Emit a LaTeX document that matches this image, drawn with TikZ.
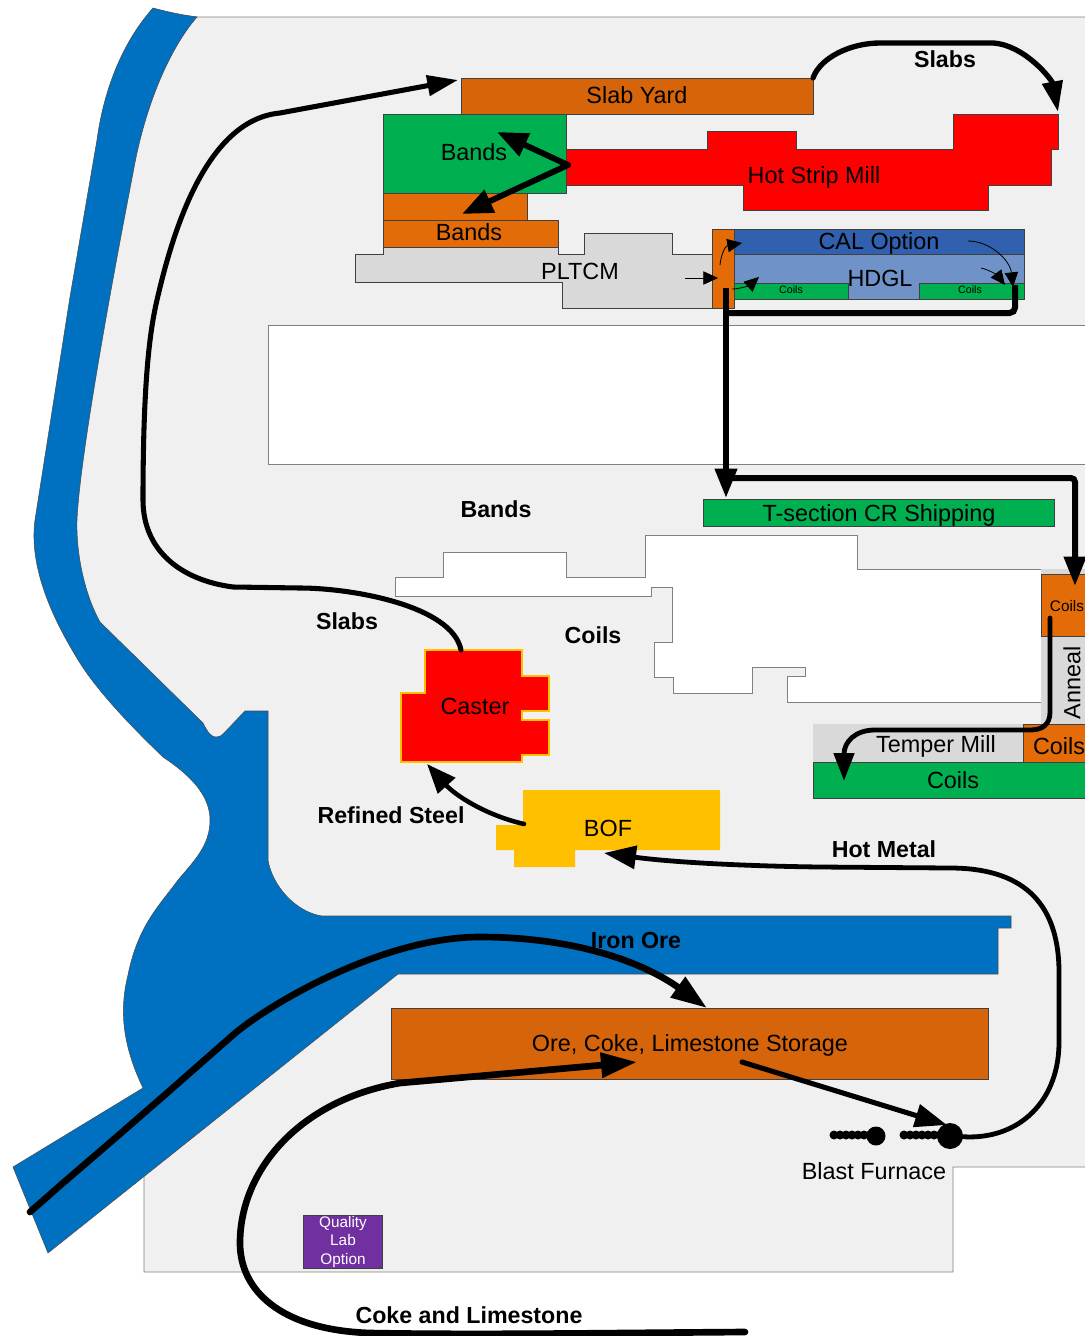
\documentclass[tikz,border=0pt]{standalone}
\usepackage{fontspec}
\setmainfont{Liberation Sans}
\usetikzlibrary{arrows.meta}
\definecolor{floorgray}{HTML}{F0F0F0}
\definecolor{river}{HTML}{0070C0}
\definecolor{rust}{HTML}{D6640A}
\definecolor{lightrust}{HTML}{E36C09}
\definecolor{leaf}{HTML}{00B050}
\definecolor{millgray}{HTML}{D9D9D9}
\definecolor{calblue}{HTML}{3060AE}
\definecolor{hdglblue}{HTML}{6F93C9}
\definecolor{gold}{HTML}{FFC000}
\definecolor{labpurple}{HTML}{7030A0}
\tikzset{
  block/.style={draw=black!75, line width=0.7pt},
  wall/.style={draw=black!50, line width=0.7pt},
  bigflow/.style={line width=3.8pt, line cap=round, -{Triangle[length=23pt,width=15pt]}},
  heavyflow/.style={line width=5pt, line cap=round, -{Triangle[length=27pt,width=18pt]}},
  thinflow/.style={line width=0.6pt, -{Triangle[length=11pt,width=10pt]}},
  lbl/.style={inner sep=0pt, font=\fontsize{17.55}{18}\selectfont},
  boldlbl/.style={inner sep=0pt, font=\fontsize{17.4}{18}\selectfont\bfseries},
  tiny/.style={inner sep=0pt, font=\fontsize{8}{8}\selectfont}
}
\begin{document}
\begin{tikzpicture}[x=0.75pt, y=-0.75pt]
  \useasboundingbox (0,0) rectangle (1085,1336);
  % floor of the works
  \draw[wall, fill=floorgray] (197,17) -- (1090,17) -- (1090,1167) -- (953,1167) -- (953,1272) -- (144,1272) -- (144,1140)
    -- (200,1000) -- (235,850) -- (200,735) -- (95,640) -- (58,520) -- (90,300) -- (125,100) -- (178,15) -- cycle;
  % river and harbour
  \draw[draw=black!70, line width=0.4pt, fill=river] (153,8) .. controls (168,12) and (182,15) .. (197,17)
    .. controls (170,48) and (145,105) .. (133,173) .. controls (120,240) and (80,450) .. (77,520)
    .. controls (76,555) and (85,595) .. (100,622) -- (203,723) .. controls (208,733) and (212,738) .. (217,737)
    .. controls (220,737) and (222,735) .. (224,733) -- (245,711) -- (268,711) -- (268,860)
    .. controls (272,885) and (295,912) .. (322,916) -- (1011,916) -- (1011,928) -- (998,928) -- (998,974)
    -- (398,974) -- (48,1253) -- (13,1167) -- (143,1088)
    .. controls (125,1050) and (118,1015) .. (128,975) .. controls (138,925) and (160,905) .. (178,880)
    .. controls (195,860) and (210,845) .. (210,820) .. controls (210,795) and (190,775) .. (163,757)
    .. controls (140,735) and (100,695) .. (80,663) .. controls (50,615) and (29,565) .. (35,520)
    -- (70,297) -- (97,140) .. controls (103,95) and (120,45) .. (153,8) -- cycle;
  % offices
  \draw[wall, fill=white] (268,325) rectangle (1090,464);
  \draw[wall, fill=white] (395,577) -- (443,577) -- (443,552) -- (566,552) -- (566,577) -- (645,577) -- (645,535)
    -- (857,535) -- (857,569) -- (1041,569) -- (1041,702) -- (787,702) -- (787,676) -- (805,676) -- (805,667)
    -- (752,667) -- (752,693) -- (673,693) -- (673,677) -- (654,677) -- (654,642) -- (672,642) -- (672,587)
    -- (651,587) -- (651,596) -- (395,596) -- cycle;
  % north mills
  \draw[block, fill=rust] (461,78) rectangle (813,114);
  \draw[block, fill=millgray] (383,247) -- (558,247) -- (558,254) -- (584,254) -- (584,233) -- (672,233) -- (672,254)
    -- (712,254) -- (712,308) -- (562,308) -- (562,282) -- (355,282) -- (355,254) -- (383,254) -- cycle;
  \draw[block, fill=lightrust] (383,193) rectangle (527,220);
  \draw[block, fill=lightrust] (383,220) rectangle (558,247);
  \draw[block, fill=leaf] (383,114) rectangle (566,193);
  \draw[block, line width=0.4pt, fill=red] (566,149) -- (707,149) -- (707,131) -- (796,131) -- (796,149) -- (953,149) -- (953,114) -- (1058,114)
    -- (1058,149) -- (1051,149) -- (1051,185) -- (988,185) -- (988,210) -- (743,210) -- (743,185) -- (566,185) -- cycle;
  \draw[block, fill=lightrust] (712,229) rectangle (734,308);
  \draw[block, fill=calblue] (734,229) rectangle (1024,254);
  \draw[block, fill=hdglblue] (734,254) rectangle (1024,299);
  \draw[block, fill=leaf] (734,283) rectangle (848,299);
  \draw[block, fill=leaf] (919,283) rectangle (1024,299);
  % south mills
  \fill[millgray] (1041,569) rectangle (1090,575);
  \fill[millgray] (1041,636) rectangle (1090,724);
  \draw[block, fill=lightrust] (1041,574) rectangle (1090,636);
  \fill[millgray] (813,724) rectangle (1023,762);
  \draw[block, fill=lightrust] (1023,724) rectangle (1090,762);
  \draw[block, fill=leaf] (813,762) rectangle (1090,798);
  \draw[block, fill=leaf] (703,499) rectangle (1054,526);
  \draw[draw=gold, line width=1pt, fill=red] (425,650) -- (522,650) -- (522,676) -- (549,676) -- (549,711) -- (522,711)
    -- (522,720) -- (549,720) -- (549,755) -- (522,755) -- (522,762) -- (401,762) -- (401,693) -- (425,693) -- cycle;
  \fill[gold] (523,790) -- (720,790) -- (720,850) -- (575,850) -- (575,867) -- (514,867) -- (514,850) -- (496,850)
    -- (496,825) -- (523,825) -- cycle;
  \draw[block, fill=rust] (391,1008) rectangle (988,1079);
  \draw[block, fill=labpurple] (303,1215) rectangle (382,1268);
  % blast furnaces
  \foreach \x in {834,840,846,852,858,864,870}
    \fill (\x,1135) circle[radius=4.5];
  \foreach \x in {904,910,916,922,928,934,940}
    \fill (\x,1135) circle[radius=4.5];
  \fill (876,1136) circle[radius=9.5];
  \node[circle, fill=black, minimum size=19.5pt, inner sep=0pt] (furnace) at (950,1136) {};
  % flow end points
  \coordinate (yardEast) at (813,78);
  \coordinate (millEast) at (1058,112);
  \coordinate (casterTop) at (461,650);
  \coordinate (yardWest) at (458,80);
  \coordinate (hotWest) at (568,165);
  \coordinate (bandsHigh) at (497,132);
  \coordinate (bandsLow) at (462,214);
  \coordinate (coilsEast) at (1015,285);
  \coordinate (coilsWest) at (726,288);
  \coordinate (shipTop) at (726,498);
  \coordinate (teeOff) at (726,478);
  \coordinate (coilsTop) at (1075,586);
  \coordinate (coilsMid) at (1050,618);
  \coordinate (greenCoils) at (844,781);
  \coordinate (bofWest) at (524,824);
  \coordinate (casterBase) at (427,764);
  \coordinate (bofEast) at (604,853);
  \coordinate (riverMouth) at (30,1212);
  \coordinate (storeTop) at (707,1008);
  \coordinate (cokeStart) at (745,1332);
  \coordinate (storeBase) at (637,1062);
  \coordinate (storeOut) at (742,1062);
  \coordinate (furnaceIn) at (947,1125);
  % flows
  \draw[bigflow, line width=4pt] (yardEast) .. controls (820,58) and (850,43) .. (880,43) -- (993,43)
    .. controls (1025,45) and (1052,80) .. (millEast);
  \draw[bigflow] (casterTop) .. controls (452,605) and (350,588) .. (300,588) -- (233,587)
    .. controls (180,580) and (143,550) .. (143,500) .. controls (143,380) and (150,330) .. (157,300)
    .. controls (172,235) and (205,120) .. (280,113) -- (yardWest);
  \draw[heavyflow, line width=4.4pt, -{Triangle[length=23pt,width=18pt]}] (hotWest) -- (bandsHigh);
  \draw[heavyflow, line width=4.4pt, -{Triangle[length=23pt,width=18pt]}] (hotWest) -- (bandsLow);
  \draw[line width=4.5pt, rounded corners=4pt] (coilsEast) |- (726,313);
  \draw[line width=4.5pt, -{Triangle[length=22pt,width=16pt]}] (coilsWest) -- (shipTop);
  \draw[line width=4.5pt, -{Triangle[length=22pt,width=16pt]}, rounded corners=3pt] (teeOff) -- (1075,478) -- (coilsTop);
  \draw[line width=3.6pt, line cap=round, -{Triangle[length=21pt,width=15pt]}]
    (coilsMid) -- (1050,712) .. controls (1050,725) and (1042,730) .. (1030,730) -- (875,730)
    .. controls (855,730) and (844,742) .. (greenCoils);
  \draw[bigflow, line width=3.4pt, -{Triangle[length=22pt,width=17pt]}] (bofWest) .. controls (485,815) and (455,795) .. (casterBase);
  \draw[bigflow, line width=3.6pt, -{Triangle[length=24pt,width=17pt]}] (furnace) .. controls (1020,1140) and (1060,1100) .. (1059,1040)
    -- (1059,970) .. controls (1058,900) and (1020,868) .. (950,868) -- (820,867) .. controls (740,866) and (670,862) .. (bofEast);
  \draw[heavyflow] (riverMouth) -- (63,1183) -- (113,1140) -- (167,1093) -- (233,1035)
    .. controls (265,1007) and (380,937) .. (480,937) .. controls (570,937) and (640,960) .. (storeTop);
  \draw[heavyflow] (cokeStart) .. controls (600,1333) and (480,1335) .. (370,1333)
    .. controls (280,1330) and (240,1290) .. (240,1243) .. controls (240,1170) and (300,1100) .. (400,1083) -- (storeBase);
  \draw[bigflow, -{Triangle[length=24pt,width=17pt]}] (storeOut) -- (furnaceIn);
  % small flows in the line
  \coordinate (pickleIn) at (685,278);
  \coordinate (pickleOut) at (718,278);
  \coordinate (calIn) at (720,265);
  \coordinate (calTip) at (742,243);
  \coordinate (hdglOut) at (732,289);
  \coordinate (hdglTip) at (759,277);
  \coordinate (calEast) at (968,241);
  \coordinate (calEastTip) at (1013,287);
  \coordinate (hdglEast) at (981,268);
  \coordinate (hdglEastTip) at (1005,285);
  \draw[thinflow] (pickleIn) -- (pickleOut);
  \draw[thinflow] (calIn) .. controls (721,255) and (725,246) .. (calTip);
  \draw[thinflow] (hdglOut) .. controls (740,289) and (750,285) .. (hdglTip);
  \draw[thinflow] (calEast) .. controls (990,241) and (1010,260) .. (calEastTip);
  \draw[thinflow] (hdglEast) .. controls (990,270) and (998,276) .. (hdglEastTip);
  % labels
  \foreach \p/\n/\t in {637/95/Slab Yard, 474/152/Bands, 469/232/Bands, 814/177/Hot Strip Mill, 580/271/PLTCM,
      879/243/CAL Option, 880/278/HDGL, 879/515/T-section CR Shipping, 936/746/Temper Mill, 1059/746/Coils, 953/780/Coils,
      475/706/Caster, 608/828/BOF, 690/1045/{Ore, Coke, Limestone Storage}, 874/1171/Blast Furnace}
    \node[lbl] (L\p) at (\p,\n) {\t};
  \foreach \p/\n/\t in {945/59/Slabs, 496/509/Bands, 347/621/Slabs, 593/635/Coils, 391/815/Refined Steel,
      884/849/Hot Metal, 636/941/Iron Ore, 469/1315/Coke and Limestone}
    \node[boldlbl] (B\p) at (\p,\n) {\t};
  \node[tiny] (coilsA) at (791,290) {Coils};
  \node[tiny] (coilsB) at (970,290) {Coils};
  \node[inner sep=0pt, font=\fontsize{11.5}{12}\selectfont] (coilsC) at (1067,606) {Coils};
  \node[lbl, rotate=90] (anneal) at (1072,683) {Anneal};
  \node[inner sep=0pt, align=center, text=white, font=\fontsize{11.5}{14.2}\selectfont] (lab) at (343,1242) {Quality\\Lab\\Option};
\end{tikzpicture}
\end{document}
